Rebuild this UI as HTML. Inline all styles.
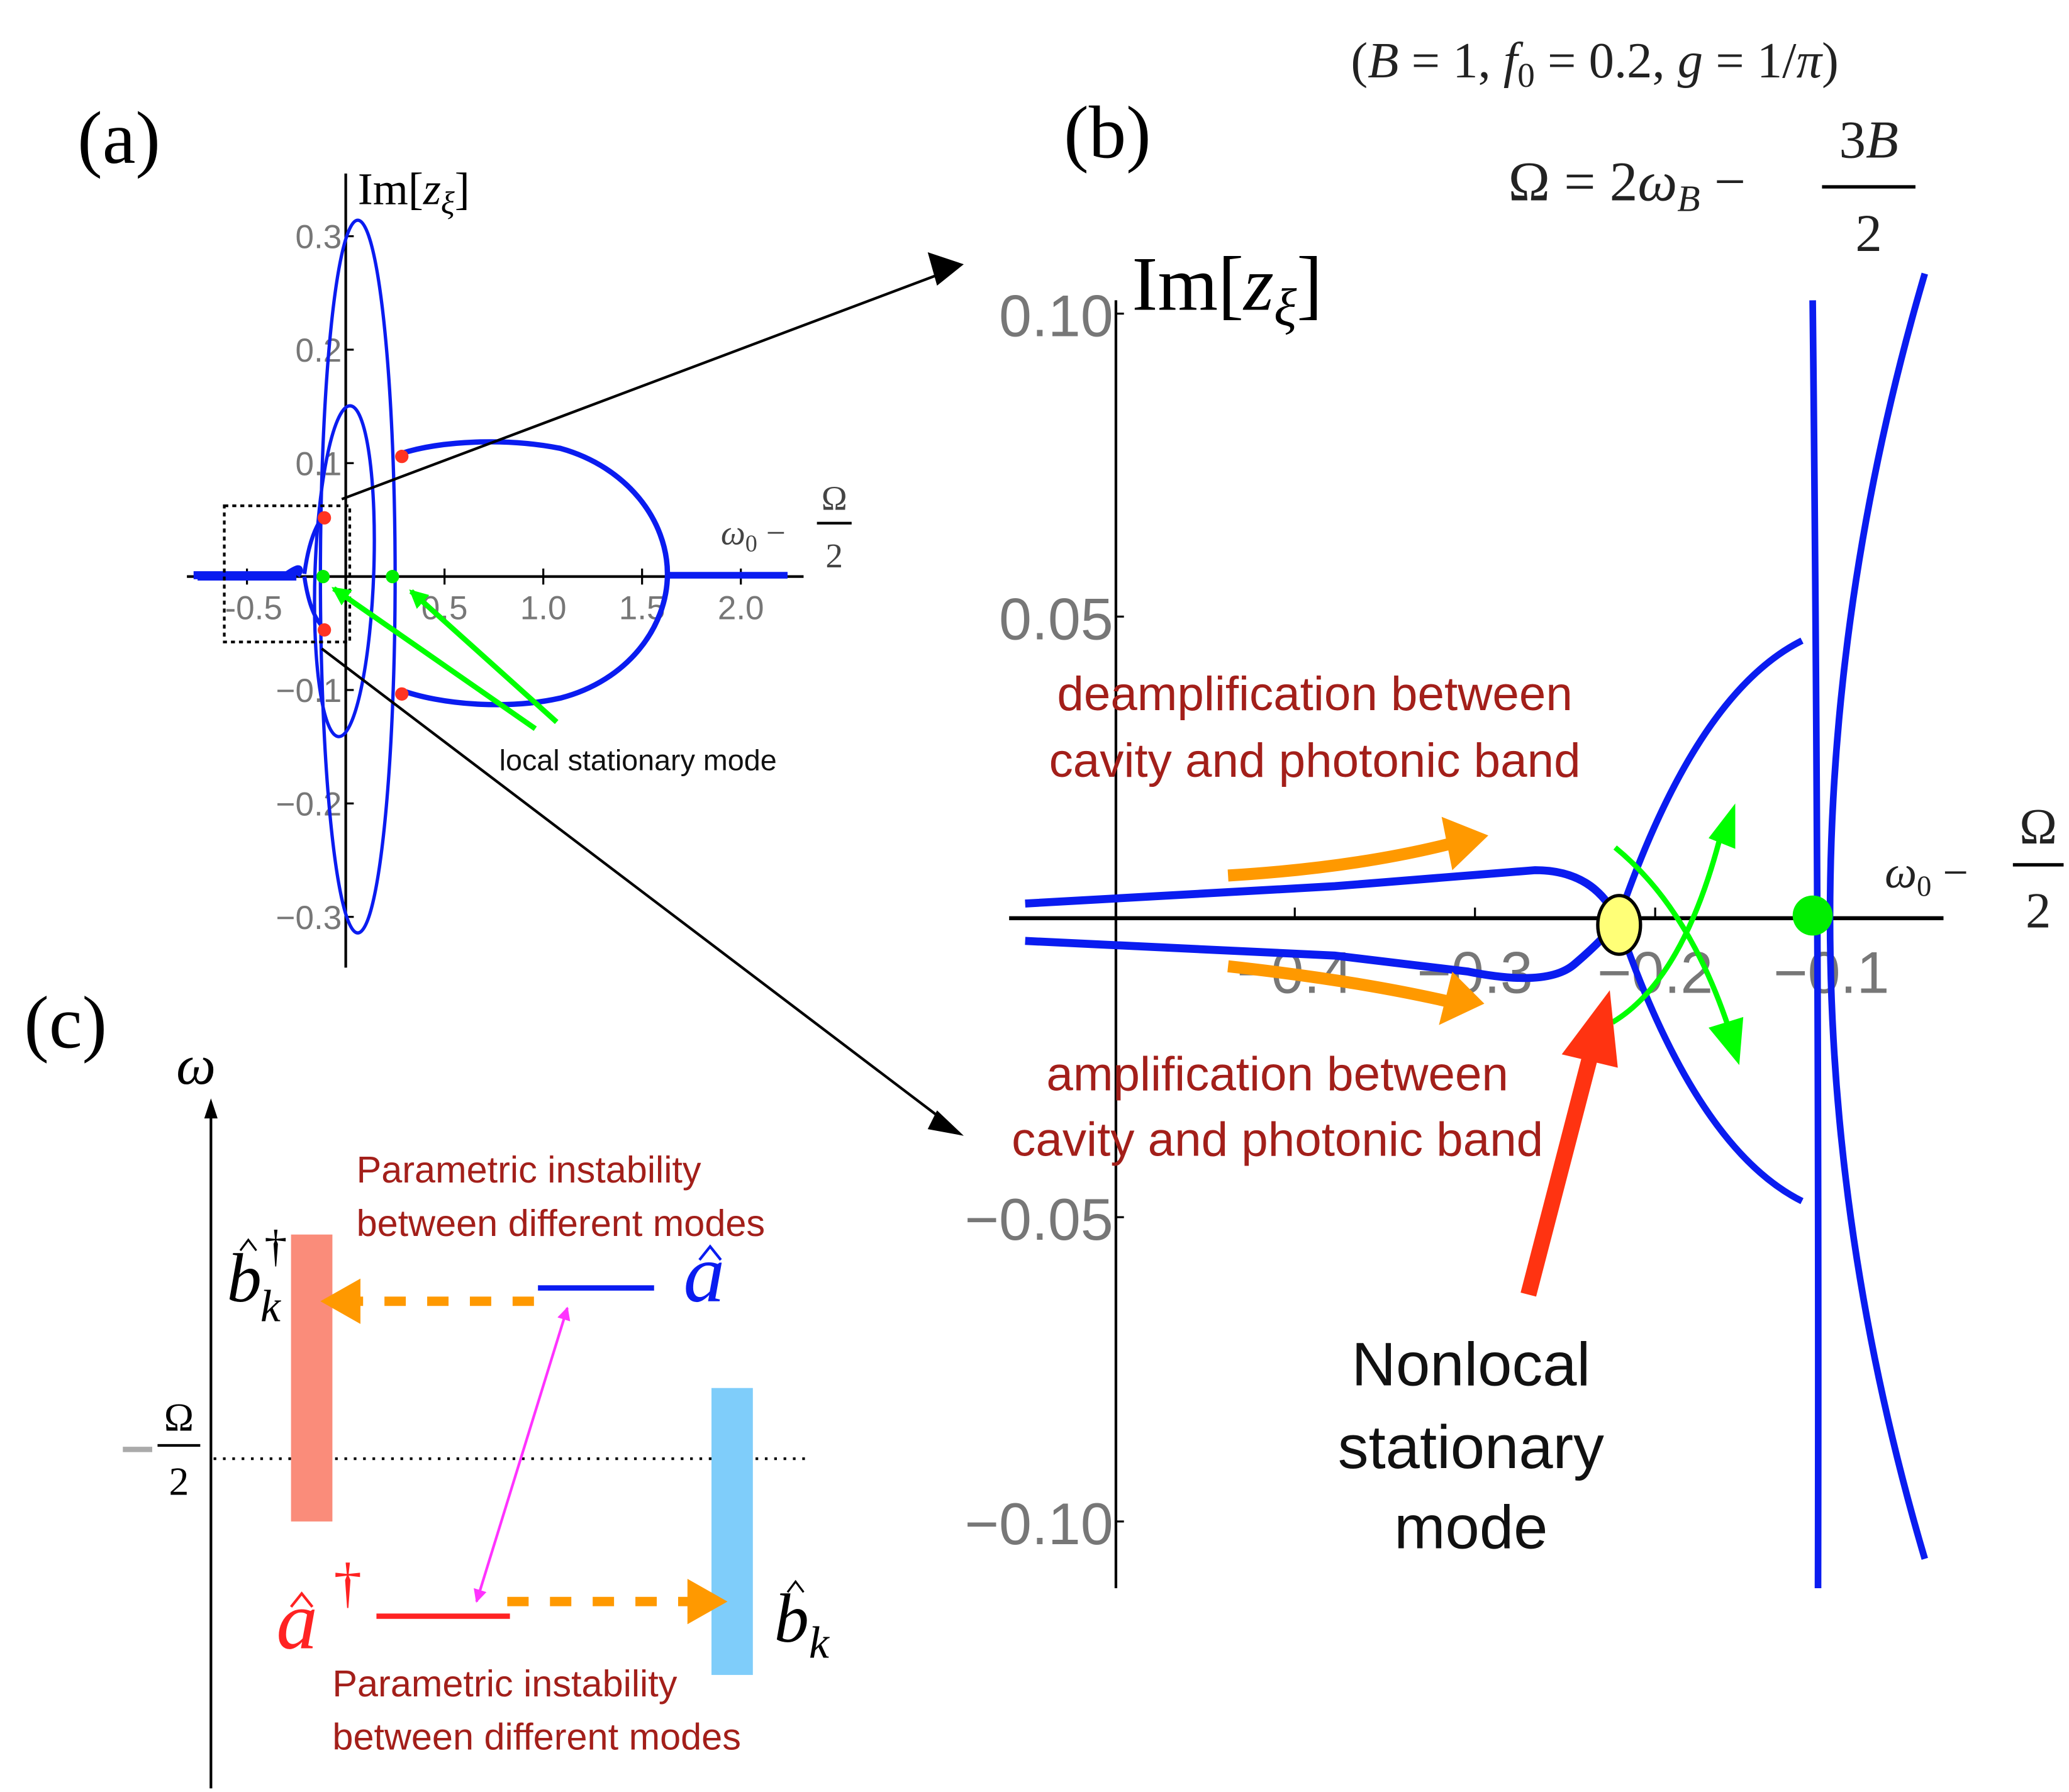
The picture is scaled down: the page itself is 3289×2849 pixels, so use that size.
<!DOCTYPE html>
<html><head><meta charset="utf-8"><style>
html,body{margin:0;padding:0;background:#fff;}
svg{display:block;}
.g{fill:#777;font-family:"Liberation Sans",sans-serif;}
.s{font-family:"Liberation Serif",serif;}
.r{fill:#a31f1a;font-family:"Liberation Sans",sans-serif;}
</style></head><body>
<svg width="3289" height="2849" viewBox="0 0 1550 1342.7" xmlns="http://www.w3.org/2000/svg">
<defs>
<marker id="am" markerWidth="10" markerHeight="10" refX="9" refY="5" orient="auto-start-reverse" markerUnits="userSpaceOnUse" viewBox="0 0 10 10"><path d="M0,0 L10,5 L0,10 z" fill="#f3f"/></marker>
<marker id="ag" markerWidth="14" markerHeight="14" refX="12" refY="7" orient="auto" markerUnits="userSpaceOnUse" viewBox="0 0 14 14"><path d="M0,0 L14,7 L0,14 z" fill="#0f0"/></marker>
</defs>

<!-- panel a -->
<text x="58" y="122" class="s" font-size="56">(a)</text>
<line x1="140" y1="432" x2="602" y2="432" stroke="#000" stroke-width="2"/>
<line x1="259" y1="130" x2="259" y2="725" stroke="#000" stroke-width="2"/>
<g stroke="#000" stroke-width="1.5">
<line x1="185" y1="426" x2="185" y2="438"/><line x1="333" y1="426" x2="333" y2="438"/><line x1="407" y1="426" x2="407" y2="438"/><line x1="481" y1="426" x2="481" y2="438"/><line x1="555" y1="426" x2="555" y2="438"/>
<line x1="259" y1="177" x2="265" y2="177"/><line x1="259" y1="262" x2="265" y2="262"/><line x1="259" y1="347" x2="265" y2="347"/><line x1="259" y1="517" x2="265" y2="517"/><line x1="259" y1="602" x2="265" y2="602"/><line x1="259" y1="687" x2="265" y2="687"/>
</g>
<g class="g" font-size="25" text-anchor="middle">
<text x="190" y="464">-0.5</text><text x="333" y="464">0.5</text><text x="407" y="464">1.0</text><text x="481" y="464">1.5</text><text x="555" y="464">2.0</text>
</g>
<g class="g" font-size="25" text-anchor="end">
<text x="256" y="186">0.3</text><text x="256" y="271">0.2</text><text x="256" y="356">0.1</text><text x="256" y="526">−0.1</text><text x="256" y="611">−0.2</text><text x="256" y="696">−0.3</text>
</g>
<text x="268" y="153" class="s" font-size="34">Im[<tspan font-style="italic">z</tspan><tspan font-style="italic" font-size="24" dy="7">ξ</tspan><tspan dy="-7">]</tspan></text>
<text x="540" y="408" class="s" font-size="26" font-style="italic" fill="#444">ω<tspan font-size="18" dy="5" font-style="normal">0</tspan><tspan dy="-5" font-style="normal"> −</tspan></text>
<text x="625" y="382" class="s" font-size="26" text-anchor="middle" fill="#444">Ω</text>
<line x1="612" y1="392" x2="638" y2="392" stroke="#000" stroke-width="2"/>
<text x="625" y="425" class="s" font-size="26" text-anchor="middle" fill="#444">2</text>
<g fill="none" stroke="#0a1cf0">
<ellipse cx="268" cy="432" rx="28" ry="267" stroke-width="2.5"/>
<ellipse cx="258" cy="428" rx="22" ry="124" stroke-width="2.5" transform="rotate(2 258 428)"/>
<path d="M300,340 C330,330 380,328 420,336 C470,350 500,390 500,430 C500,470 470,510 420,523 C380,532 330,528 300,517" stroke-width="4"/>
<line x1="500" y1="431" x2="590" y2="431" stroke-width="5"/>
<path d="M145,431 L215,431 Q228,422 222,431" stroke-width="6"/>
<path d="M148,432 L222,432" stroke-width="6"/>
<path d="M228,430 Q232,400 242,387 M228,432 Q232,460 242,470" stroke-width="3"/>
</g>
<rect x="168" y="379" width="94" height="102" fill="none" stroke="#000" stroke-width="2" stroke-dasharray="3,3"/>
<g fill="#f32"><circle cx="243" cy="388" r="5"/><circle cx="301" cy="342" r="5"/><circle cx="243" cy="472" r="5"/><circle cx="301" cy="520" r="5"/></g>
<g fill="#0e0"><circle cx="242" cy="432" r="5"/><circle cx="294" cy="432" r="5"/></g>
<line x1="256" y1="374" x2="705" y2="205" stroke="#000" stroke-width="2"/>
<path d="M695,189 L722,198 L702,214 z" fill="#000"/>
<line x1="241" y1="486" x2="705" y2="838" stroke="#000" stroke-width="2"/>
<path d="M702,832 L722,851 L695,846 z" fill="#000"/>
<line x1="401" y1="546" x2="250" y2="441" stroke="#0f0" stroke-width="4" marker-end="url(#ag)"/>
<line x1="417" y1="541" x2="308" y2="443" stroke="#0f0" stroke-width="4" marker-end="url(#ag)"/>
<text x="374" y="577" font-family="Liberation Sans,sans-serif" font-size="22" fill="#111">local stationary mode</text>

<!-- panel b -->
<text x="797" y="118" class="s" font-size="56">(b)</text>
<text x="1012" y="58" class="s" font-size="38" fill="#222">(<tspan font-style="italic">B</tspan> = 1, <tspan font-style="italic">f</tspan><tspan font-size="26" dy="7">0</tspan><tspan dy="-7"> = 0.2, </tspan><tspan font-style="italic">g</tspan> = 1/<tspan font-style="italic">π</tspan>)</text>
<text x="1130" y="150" class="s" font-size="42" fill="#222">Ω = 2<tspan font-style="italic">ω</tspan><tspan font-size="28" dy="8" font-style="italic">B</tspan><tspan dy="-8"> −</tspan></text>
<text x="1400" y="118" class="s" font-size="40" text-anchor="middle" font-style="italic" fill="#222"><tspan font-style="normal">3</tspan>B</text>
<line x1="1365" y1="140" x2="1435" y2="140" stroke="#000" stroke-width="2.5"/>
<text x="1400" y="188" class="s" font-size="40" text-anchor="middle" fill="#222">2</text>
<text x="848" y="232" class="s" font-size="58">Im[<tspan font-style="italic">z</tspan><tspan font-style="italic" font-size="40" dy="12">ξ</tspan><tspan dy="-12">]</tspan></text>
<line x1="756" y1="688" x2="1456" y2="688" stroke="#000" stroke-width="3"/>
<line x1="836" y1="225" x2="836" y2="1190" stroke="#000" stroke-width="2"/>
<g stroke="#000" stroke-width="1.5">
<line x1="970" y1="680" x2="970" y2="688"/><line x1="1105" y1="680" x2="1105" y2="688"/><line x1="1240" y1="680" x2="1240" y2="688"/><line x1="1372" y1="680" x2="1372" y2="688"/>
<line x1="836" y1="235" x2="842" y2="235"/><line x1="836" y1="462" x2="842" y2="462"/><line x1="836" y1="912" x2="842" y2="912"/><line x1="836" y1="1140" x2="842" y2="1140"/>
</g>
<g class="g" font-size="44" text-anchor="end" fill="#666">
<text x="834" y="252">0.10</text><text x="834" y="479">0.05</text><text x="834" y="929">−0.05</text><text x="834" y="1157">−0.10</text>
</g>
<g class="g" font-size="44" text-anchor="middle" fill="#666">
<text x="970" y="744">−0.4</text><text x="1105" y="744">−0.3</text><text x="1240" y="744">−0.2</text><text x="1372" y="744">−0.1</text>
</g>
<text x="1412" y="665" class="s" font-size="34" font-style="italic" fill="#222">ω<tspan font-size="22" dy="6" font-style="normal">0</tspan><tspan dy="-6" font-style="normal"> −</tspan></text>
<text x="1527" y="632" class="s" font-size="38" text-anchor="middle" fill="#222">Ω</text>
<line x1="1508" y1="648" x2="1546" y2="648" stroke="#000" stroke-width="2.5"/>
<text x="1527" y="695" class="s" font-size="38" text-anchor="middle" fill="#222">2</text>
<g fill="none" stroke="#0a1cf0" stroke-width="6">
<path d="M768,677 L1000,664 L1150,652 Q1195,652 1212,690"/>
<path d="M768,705 L1000,716 L1100,728 Q1160,740 1180,722 Q1200,705 1212,690"/>
<path d="M1212,690 Q1270,520 1350,480 M1212,690 Q1270,860 1350,900" stroke-width="5"/>
<path d="M1442,205 Q1300,688 1442,1168" stroke-width="5"/>
<path d="M1358,225 Q1363,688 1362,1190" stroke-width="5"/>
</g>
<path d="M920,656 Q1020,650 1095,630" fill="none" stroke="#f90" stroke-width="9"/>
<path d="M1080,612 L1115,626 L1088,652 z" fill="#f90"/>
<path d="M920,724 Q1020,735 1092,752" fill="none" stroke="#f90" stroke-width="9"/>
<path d="M1088,728 L1112,752 L1078,768 z" fill="#f90"/>
<path d="M1210,635 Q1265,680 1295,770" fill="none" stroke="#0f0" stroke-width="4"/>
<path d="M1280,770 L1303,798 L1306,762 z" fill="#0f0"/>
<path d="M1208,766 Q1260,735 1288,630" fill="none" stroke="#0f0" stroke-width="4"/>
<path d="M1280,628 L1300,602 L1300,636 z" fill="#0f0"/>
<ellipse cx="1213" cy="693" rx="16" ry="22" fill="#ff7" stroke="#000" stroke-width="2.5"/>
<circle cx="1358" cy="686" r="15" fill="#0e0"/>
<line x1="1145" y1="970" x2="1193" y2="785" stroke="#f31" stroke-width="12"/>
<path d="M1170,790 L1206,742 L1212,800 z" fill="#f31"/>
<g class="r" font-size="36" text-anchor="middle">
<text x="985" y="532">deamplification between</text>
<text x="985" y="582">cavity and photonic band</text>
<text x="957" y="817">amplification between</text>
<text x="957" y="866">cavity and photonic band</text>
</g>
<g font-family="Liberation Sans,sans-serif" font-size="46" text-anchor="middle" fill="#111">
<text x="1102" y="1038">Nonlocal</text><text x="1102" y="1100">stationary</text><text x="1102" y="1160">mode</text>
</g>

<!-- panel c -->
<text x="18" y="785" class="s" font-size="56">(c)</text>
<text x="132" y="812" class="s" font-size="42" font-style="italic">ω</text>
<line x1="158" y1="1340" x2="158" y2="835" stroke="#000" stroke-width="2"/>
<path d="M153,838 L158,823 L163,838 z" fill="#000"/>
<line x1="160" y1="1093" x2="605" y2="1093" stroke="#000" stroke-width="2" stroke-dasharray="2,5"/>
<line x1="92" y1="1086" x2="114" y2="1086" stroke="#aaa" stroke-width="4"/>
<text x="134" y="1072" class="s" font-size="30" text-anchor="middle">Ω</text>
<line x1="118" y1="1083" x2="150" y2="1083" stroke="#000" stroke-width="2"/>
<text x="134" y="1120" class="s" font-size="30" text-anchor="middle">2</text>
<rect x="218" y="925" width="31" height="215" fill="#fa8c7a"/>
<rect x="533" y="1040" width="31" height="215" fill="#7fcdfa"/>
<line x1="403" y1="965" x2="490" y2="965" stroke="#0a1cf0" stroke-width="4"/>
<line x1="282" y1="1211" x2="382" y2="1211" stroke="#f22" stroke-width="4"/>
<line x1="400" y1="975" x2="270" y2="975" stroke="#f90" stroke-width="7" stroke-dasharray="16,16"/>
<path d="M270,958 L240,975 L270,992 z" fill="#f90"/>
<line x1="380" y1="1200" x2="520" y2="1200" stroke="#f90" stroke-width="7" stroke-dasharray="16,16"/>
<path d="M515,1183 L545,1200 L515,1217 z" fill="#f90"/>
<line x1="425" y1="980" x2="357" y2="1200" stroke="#f3f" stroke-width="2" marker-start="url(#am)" marker-end="url(#am)"/>
<text x="512" y="975" class="s" font-size="62" font-style="italic" fill="#0a1cf0">a</text>
<path d="M524,944 L532,934 L540,944" fill="none" stroke="#0a1cf0" stroke-width="2"/>
<text x="207" y="1235" class="s" font-size="62" font-style="italic" fill="#f22">a</text>
<path d="M218,1204 L226,1194 L234,1204" fill="none" stroke="#f22" stroke-width="2"/>
<text x="250" y="1200" class="s" font-size="42" fill="#f22">†</text>
<text x="170" y="975" class="s" font-size="52" font-style="italic">b</text>
<path d="M180,937 L186,929 L192,937" fill="none" stroke="#000" stroke-width="1.5"/>
<text x="198" y="945" class="s" font-size="34">†</text>
<text x="195" y="990" class="s" font-size="34" font-style="italic">k</text>
<text x="580" y="1230" class="s" font-size="52" font-style="italic">b</text>
<path d="M590,1193 L596,1185 L602,1193" fill="none" stroke="#000" stroke-width="1.5"/>
<text x="606" y="1242" class="s" font-size="34" font-style="italic">k</text>
<g class="r" font-size="28">
<text x="267" y="886">Parametric instability</text>
<text x="267" y="926">between different modes</text>
<text x="249" y="1271">Parametric instability</text>
<text x="249" y="1311">between different modes</text>
</g>
</svg>
</body></html>
